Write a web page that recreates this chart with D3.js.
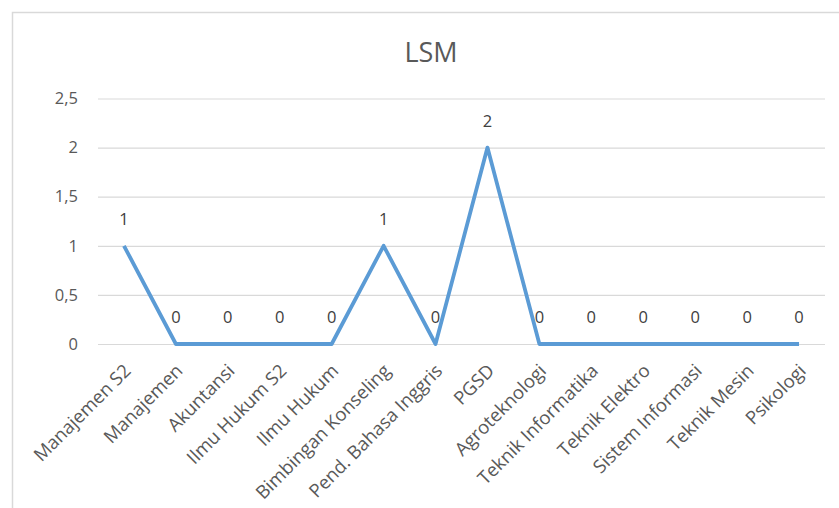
<!DOCTYPE html>
<html>
<head>
<meta charset="utf-8">
<script src="https://cdn.jsdelivr.net/npm/d3@7"></script>
<style>
  html, body { margin: 0; padding: 0; background: #fff; }
  svg { display: block; }
</style>
</head>
<body>
<svg id="chart" width="839" height="508"></svg>
<script>
const categories = ["Manajemen S2", "Manajemen", "Akuntansi", "Ilmu Hukum S2", "Ilmu Hukum",
  "Bimbingan Konseling", "Pend. Bahasa Inggris", "PGSD", "Agroteknologi", "Teknik Informatika",
  "Teknik Elektro", "Sistem Informasi", "Teknik Mesin", "Psikologi"];
const values = [1, 0, 0, 0, 0, 1, 0, 2, 0, 0, 0, 0, 0, 0];
const yTicks = [0, 0.5, 1, 1.5, 2, 2.5];
const title = "LSM";

(function () {
const svg = d3.select("#chart");
const font = "'Open Sans', 'Noto Sans', sans-serif";
const textColor = "#595959";

// chart frame
svg.append("rect")
  .attr("x", 12.5).attr("y", 12.5)
  .attr("width", 900).attr("height", 600)
  .attr("fill", "#fff")
  .attr("stroke", "#d9d9d9").attr("stroke-width", 1.5);

const pLeft = 98, pRight = 825, pTop = 98.5, pBottom = 344;

const x = d3.scaleBand().domain(categories).range([pLeft, pRight]);
const y = d3.scaleLinear().domain([0, 2.5]).range([pBottom, pTop]);

// gridlines
const yAxis = d3.axisLeft(y).tickValues(yTicks).tickSize(-(pRight - pLeft)).tickPadding(20)
  .tickFormat(d => String(d).replace(".", ","));
const gy = svg.append("g").attr("transform", `translate(${pLeft},0)`).call(yAxis);
gy.select(".domain").remove();
gy.selectAll(".tick line").attr("stroke", "#d9d9d9").attr("stroke-width", 1.2);
gy.selectAll(".tick text")
  .attr("font-family", font).attr("font-size", 16.5).attr("fill", textColor);

// x axis labels
const xAxis = d3.axisBottom(x).tickSize(0).tickPadding(0);
const gx = svg.append("g").attr("transform", `translate(0,${pBottom})`).call(xAxis);
gx.select(".domain").remove();
gx.selectAll(".tick text")
  .attr("font-family", font).attr("font-size", 18.5).attr("fill", textColor)
  .attr("text-anchor", "end")
  .attr("dy", 0)
  .attr("transform", "translate(8,28) rotate(-45)");

// line
const line = d3.line()
  .x((d, i) => x(categories[i]) + x.bandwidth() / 2)
  .y(d => y(d));
svg.append("path")
  .datum(values)
  .attr("d", line)
  .attr("fill", "none")
  .attr("stroke", "#5b9bd5")
  .attr("stroke-width", 3.8)
  .attr("stroke-linejoin", "round");

// data labels
svg.append("g").selectAll("text")
  .data(values)
  .join("text")
  .attr("x", (d, i) => x(categories[i]) + x.bandwidth() / 2)
  .attr("y", d => y(d) - 21)
  .attr("text-anchor", "middle")
  .attr("font-family", font).attr("font-size", 16.5).attr("fill", "#404040")
  .text(d => d);

// title
svg.append("text")
  .attr("x", 431).attr("y", 62)
  .attr("text-anchor", "middle")
  .attr("font-family", font).attr("font-size", 27).attr("fill", textColor)
  .text(title);
})();
</script>
</body>
</html>
